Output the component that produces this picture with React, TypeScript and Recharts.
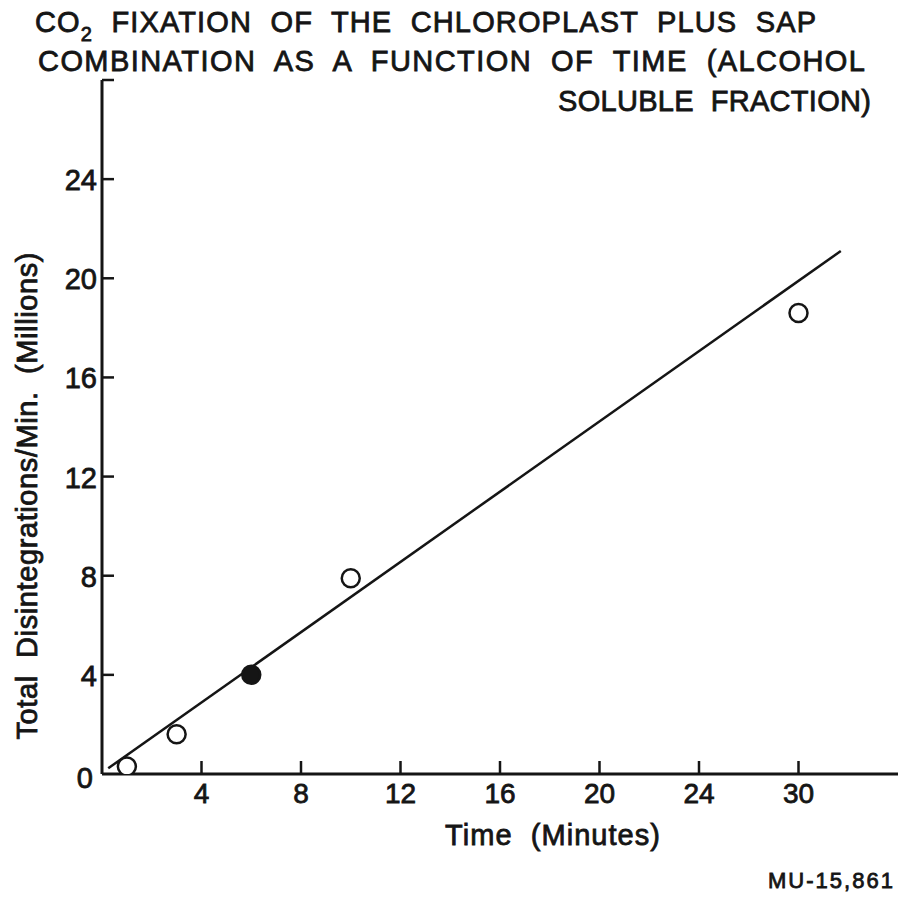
import { ComposedChart, Scatter, XAxis, YAxis, ReferenceLine } from 'recharts';

// measured points (minutes, millions of disintegrations/min)
const times = [1, 3, 6, 10, 30];
const counts = [0.3, 1.6, 4.0, 7.9, 18.6];
const filled = [false, false, true, false, false];

// fitted straight line, two end points
const fitTimes = [0.25, 32.55];
const fitCounts = [0.23, 21.1];

// the x axis is drawn with the "30" tick where 28 would sit
const xTickLabels = [0, 4, 8, 12, 16, 20, 24, 30];
const xTickPositions = [0, 4, 8, 12, 16, 20, 24, 28];
const yTicks = [0, 4, 8, 12, 16, 20, 24, 28];

const INK = '#151515';
const FONT = '"Liberation Sans", Arial, sans-serif';

// minutes -> axis position (piecewise, follows the tick table)
const axisPos = (t: number) => {
  const n = xTickLabels.length;
  for (let i = 1; i < n; i++) {
    if (t <= xTickLabels[i] || i === n - 1) {
      const a = xTickLabels[i - 1];
      const b = xTickLabels[i];
      const pa = xTickPositions[i - 1];
      const pb = xTickPositions[i];
      return pa + ((t - a) * (pb - pa)) / (b - a);
    }
  }
  return t;
};

const points = times.map((t, i) => ({
  pos: axisPos(t),
  value: counts[i],
  filled: filled[i],
}));

// slightly heavier lettering, like the stencil text of the original
const heavy = { stroke: INK, strokeWidth: 0.8 };

const XTick = (props: any) => {
  const { x, y, payload } = props;
  const idx = xTickPositions.indexOf(payload.value);
  if (idx <= 0) return <g />;
  return (
    <g>
      <line x1={x} y1={y} x2={x} y2={y - 13} stroke={INK} strokeWidth={2.5} />
      <text x={x} y={y + 29} textAnchor="middle" fontSize={28} fontFamily={FONT} fill={INK} {...heavy}>
        {xTickLabels[idx]}
      </text>
    </g>
  );
};

const YTick = (props: any) => {
  const { x, y, payload } = props;
  const v = payload.value;
  if (v === 0) {
    return (
      <text x={x - 9} y={y + 14} textAnchor="end" fontSize={29} fontFamily={FONT} fill={INK} {...heavy}>
        0
      </text>
    );
  }
  return (
    <g>
      <line x1={x} y1={y} x2={x + 12} y2={y} stroke={INK} strokeWidth={2.5} />
      {v !== 28 && (
        <text x={x - 5} y={y + 11} textAnchor="end" fontSize={29} fontFamily={FONT} fill={INK} {...heavy}>
          {v}
        </text>
      )}
    </g>
  );
};

const Dot = (props: any) => {
  const { cx, cy, payload } = props;
  return (
    <circle
      cx={cx}
      cy={cy}
      r={9}
      fill={payload.filled ? INK : '#fff'}
      stroke={INK}
      strokeWidth={2.5}
    />
  );
};

const App = () => {
  return (
    <div style={{ position: 'absolute', left: 0, top: 0, width: 898, height: 898, background: '#fff' }}>
      <ComposedChart
        width={898}
        height={898}
        margin={{ top: 80, right: 0, bottom: 94, left: 0 }}
      >
        <XAxis
          type="number"
          dataKey="pos"
          domain={[0, 32]}
          ticks={xTickPositions}
          allowDataOverflow
          height={30}
          tickSize={0}
          tickMargin={0}
          tickLine={false}
          axisLine={{ stroke: INK, strokeWidth: 3 }}
          tick={<XTick />}
        />
        <YAxis
          type="number"
          dataKey="value"
          domain={[0, 28]}
          ticks={yTicks}
          allowDataOverflow
          width={102}
          tickSize={0}
          tickMargin={0}
          tickLine={false}
          axisLine={{ stroke: INK, strokeWidth: 3 }}
          tick={<YTick />}
        />
        <ReferenceLine
          segment={[
            { x: axisPos(fitTimes[0]), y: fitCounts[0] },
            { x: axisPos(fitTimes[1]), y: fitCounts[1] },
          ]}
          stroke={INK}
          strokeWidth={2.5}
          ifOverflow="visible"
        />
        <Scatter data={points} dataKey="value" shape={<Dot />} isAnimationActive={false} />
      </ComposedChart>

      <svg
        width={898}
        height={898}
        style={{ position: 'absolute', left: 0, top: 0, pointerEvents: 'none' }}
        fontFamily={FONT}
        fill={INK}
        stroke={INK}
        strokeWidth={0.8}
      >
        <text x={35} y={32} fontSize={29} textLength={781} lengthAdjust="spacing" style={{ whiteSpace: 'pre' }}>
          CO<tspan fontSize={20} dy={9}>2</tspan>
          <tspan dy={-9}>{'  FIXATION  OF  THE  CHLOROPLAST  PLUS  SAP'}</tspan>
        </text>
        <text x={38} y={71} fontSize={29} textLength={827} lengthAdjust="spacing" style={{ whiteSpace: 'pre' }}>
          {'COMBINATION  AS  A  FUNCTION  OF  TIME  (ALCOHOL'}
        </text>
        <text x={558} y={111} fontSize={29} textLength={313} lengthAdjust="spacing" style={{ whiteSpace: 'pre' }}>
          {'SOLUBLE  FRACTION)'}
        </text>
        <text
          transform="translate(37, 496) rotate(-90)"
          textAnchor="middle"
          fontSize={29}
          textLength={487}
          lengthAdjust="spacing"
          style={{ whiteSpace: 'pre' }}
        >
          {'Total  Disintegrations/Min.  (Millions)'}
        </text>
        <text x={445} y={845} fontSize={29} textLength={215} lengthAdjust="spacing" style={{ whiteSpace: 'pre' }}>
          {'Time  (Minutes)'}
        </text>
        <text x={768} y={888} fontSize={22} textLength={125} lengthAdjust="spacing">
          MU-15,861
        </text>
      </svg>
    </div>
  );
};

export default App;
